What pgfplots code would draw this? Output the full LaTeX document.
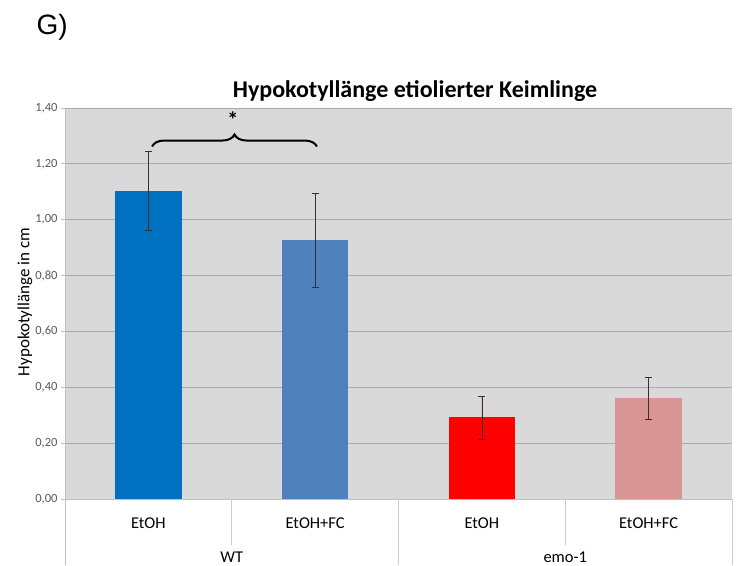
\documentclass[border=0pt]{standalone}
\usepackage{pgfplots}
\pgfplotsset{compat=1.18}
\usepackage{fontspec}
\setmainfont{Carlito}
\newfontfamily\arialf{Liberation Sans}
\usetikzlibrary{decorations.pathreplacing}
\definecolor{bgc}{RGB}{217,217,217}
\definecolor{gridc}{RGB}{170,170,170}
\definecolor{axc}{RGB}{191,191,191}
\definecolor{sepc}{RGB}{205,205,205}
\definecolor{tickc}{RGB}{89,89,89}
\definecolor{cA}{RGB}{0,112,192}
\definecolor{cB}{RGB}{79,129,189}
\definecolor{cC}{RGB}{255,0,0}
\definecolor{cD}{RGB}{217,150,148}
\definecolor{errc}{RGB}{50,50,50}
\pgfplotsset{myerr/.style={error bars/.cd, y dir=both, y explicit,
  error bar style={draw=errc, line width=0.6pt},
  error mark options={rotate=90, draw=errc, mark size=3.5pt, line width=0.6pt}}}
\begin{document}
\begin{tikzpicture}
\useasboundingbox (-65pt,-66pt) rectangle (671pt,499pt);
\begin{axis}[
  at={(0pt,0pt)}, anchor=south west,
  scale only axis, width=667pt, height=391pt,
  xmin=-0.5, xmax=3.5, ymin=0, ymax=1.4,
  axis lines=left, axis line style={-, draw=axc, line width=0.9pt},
  axis background/.style={fill=bgc},
  xtick=\empty,
  ytick={0,0.2,0.4,0.6,0.8,1.0,1.2,1.4},
  /pgf/number format/fixed, /pgf/number format/fixed zerofill,
  /pgf/number format/precision=2, /pgf/number format/use comma,
  /pgf/number format/assume math mode=true,
  yticklabel style={font=\fontsize{12.5}{12.5}\selectfont, text=tickc},
  tick align=outside, major tick length=4pt,
  ytick style={draw=axc, line width=0.9pt},
  ymajorgrids, grid style={draw=gridc, line width=0.9pt},
  ybar, bar width=0.4, bar shift=0pt,
  clip=false,
]
\addplot[fill=cA, draw=none, myerr] coordinates {(0,1.103) +- (0,0.142)};
\addplot[fill=cB, draw=none, myerr] coordinates {(1,0.927) +- (0,0.168)};
\addplot[fill=cC, draw=none, myerr] coordinates {(2,0.2925) +- (0,0.077)};
\addplot[fill=cD, draw=none, myerr] coordinates {(3,0.360) +- (0,0.075)};
% brace and star
\draw[decorate, decoration={brace, amplitude=12pt}, line width=2pt] (axis cs:0.022,1.262) -- (axis cs:1.011,1.262);
\node[font=\fontsize{22}{22}\selectfont\bfseries] at (axis cs:0.507,1.36) {*};
% category axis separators
\draw[sepc, line width=0.9pt] (axis cs:0.5,0) -- ([yshift=-46pt]axis cs:0.5,0);
\draw[sepc, line width=0.9pt] (axis cs:2.5,0) -- ([yshift=-46pt]axis cs:2.5,0);
\draw[sepc, line width=0.9pt] (axis cs:1.5,0) -- ([yshift=-66pt]axis cs:1.5,0);
\draw[axc, line width=0.9pt] (axis cs:-0.5,0) -- ([yshift=-66pt]axis cs:-0.5,0);
\draw[sepc, line width=0.9pt] (axis cs:3.5,0) -- ([yshift=-66pt]axis cs:3.5,0);
% category labels
\node[font=\fontsize{16.5}{16.5}\selectfont] at (axis cs:0,0) [yshift=-24pt] {EtOH};
\node[font=\fontsize{16.5}{16.5}\selectfont] at (axis cs:1,0) [yshift=-24pt] {EtOH+FC};
\node[font=\fontsize{16.5}{16.5}\selectfont] at (axis cs:2,0) [yshift=-24pt] {EtOH};
\node[font=\fontsize{16.5}{16.5}\selectfont] at (axis cs:3,0) [yshift=-24pt] {EtOH+FC};
\node[font=\fontsize{16.5}{16.5}\selectfont] at (axis cs:0.5,0) [yshift=-58pt] {WT};
\node[font=\fontsize{16.5}{16.5}\selectfont] at (axis cs:2.5,0) [yshift=-58pt] {emo-1};
\end{axis}
\node[rotate=90, font=\fontsize{17}{17}\selectfont] at (-40pt,197pt) {Hypokotyllänge in cm};
\node[font=\fontsize{24}{24}\selectfont\bfseries] at (350pt,407.5pt) {Hypokotyllänge etiolierter Keimlinge};
\node[font=\arialf\fontsize{28}{28}\selectfont, anchor=west] at (-32pt,472pt) {G)};
\end{tikzpicture}
\end{document}
